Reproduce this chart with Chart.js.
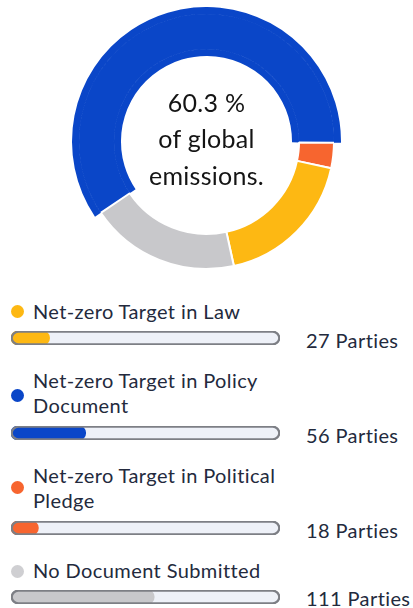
<!DOCTYPE html>
<html lang="en">
<head>
<meta charset="UTF-8" />
<meta name="viewport" content="width=device-width, initial-scale=1.0" />
<title>Net-zero Targets</title>
<script src="https://cdn.jsdelivr.net/npm/chart.js"></script>
<style>
  body {
    margin: 0;
    background: #ffffff;
    font-family: Lato, 'Open Sans', sans-serif;
    color: #232a3d;
  }
  #wrap {
    position: relative;
    width: 413px;
    height: 608px;
    overflow: hidden;
  }
  .ring {
    position: absolute;
    left: 72px;
    top: 7px;
    width: 269px;
    height: 269px;
  }
  .center-text {
    position: absolute;
    left: 96px;
    top: 83.5px;
    width: 221px;
    text-align: center;
    font-size: 25px;
    letter-spacing: 0.25px;
    line-height: 36.7px;
    color: #141414;
  }
  .dot {
    position: absolute;
    left: 11px;
    width: 13px;
    height: 13px;
    border-radius: 50%;
  }
  .label {
    position: absolute;
    left: 33px;
    font-size: 20px;
    letter-spacing: 0.4px;
    line-height: 25px;
    white-space: nowrap;
  }
  .bar {
    position: absolute;
    left: 11px;
    width: 269px;
    height: 14px;
  }
  .count {
    position: absolute;
    left: 306px;
    font-size: 20px;
    letter-spacing: 0.4px;
    line-height: 25px;
    white-space: nowrap;
  }
</style>
</head>
<body>
  <div id="wrap">
    <div class="ring"><canvas id="ring"></canvas></div>
    <div class="center-text" id="centerText"></div>
  </div>

  <script>
    // data (legend order)
    const categories = [
      ['Net-zero Target in Law'],
      ['Net-zero Target in Policy', 'Document'],
      ['Net-zero Target in Political', 'Pledge'],
      ['No Document Submitted']
    ];
    const parties = [27, 56, 18, 111];
    const emissionShare = [18.2, 59.6, 3.2, 19.0];
    const centerLines = ['60.3 %', 'of global', 'emissions.'];

    // styling / layout
    const colors = ['#fdb813', '#0a46c8', '#f7652f', '#c8c8cb'];
    const dotColors = ['#fdb813', '#0a46c8', '#f7652f', '#cfcfd2'];
    const trackFill = '#eef1f8';
    const trackLine = '#7d7f85';
    const ringOrder = [1, 2, 0, 3];   // clockwise from the top-left
    const highlight = 1;              // thicker segment
    const labelTops = [299, 368, 463, 557.5];
    const dotTops = [304.5, 388.5, 480.5, 564.5];
    const barTops = [331, 426, 521, 590];
    const countTops = [327.5, 422.5, 517.5, 586];
    const barStart = -4;

    const total = parties.reduce((a, b) => a + b, 0);
    const wrap = document.getElementById('wrap');

    document.getElementById('centerText').innerHTML = centerLines.join('<br>');

    // doughnut: three rings so the highlighted segment is thicker
    const ringData = ringOrder.map(i => emissionShare[i]);
    const ringColors = ringOrder.map(i => colors[i]);
    const edgeColors = ringOrder.map(i => i === highlight ? colors[i] : 'rgba(0,0,0,0)');

    new Chart(document.getElementById('ring'), {
      type: 'doughnut',
      data: {
        labels: ringOrder.map(i => categories[i].join(' ')),
        datasets: [
          { data: ringData, backgroundColor: edgeColors, borderWidth: 0, weight: 7 },
          {
            data: ringData,
            backgroundColor: ringColors,
            borderColor: ringOrder.map(i => i === highlight ? colors[i] : '#ffffff'),
            borderWidth: ringOrder.map(i => i === highlight ? 1 : 2),
            weight: 35
          },
          { data: ringData, backgroundColor: edgeColors, borderWidth: 0, weight: 7 }
        ]
      },
      options: {
        responsive: true,
        maintainAspectRatio: false,
        animation: false,
        rotation: 236,
        cutout: '63.6%',
        layout: { padding: 0 },
        plugins: { legend: { display: false }, tooltip: { enabled: false } }
      }
    });

    // legend rows with progress bars
    categories.forEach((lines, i) => {
      const dot = document.createElement('div');
      dot.className = 'dot';
      dot.style.top = dotTops[i] + 'px';
      dot.style.background = dotColors[i];
      wrap.appendChild(dot);

      const label = document.createElement('div');
      label.className = 'label';
      label.style.top = labelTops[i] + 'px';
      label.innerHTML = lines.join('<br>');
      wrap.appendChild(label);

      const count = document.createElement('div');
      count.className = 'count';
      count.style.top = countTops[i] + 'px';
      count.textContent = parties[i] + ' Parties';
      wrap.appendChild(count);

      const box = document.createElement('div');
      box.className = 'bar';
      box.style.top = barTops[i] + 'px';
      const canvas = document.createElement('canvas');
      box.appendChild(canvas);
      wrap.appendChild(box);

      const common = { borderRadius: 7, borderSkipped: false, grouped: false, barPercentage: 1, categoryPercentage: 1 };
      new Chart(canvas, {
        type: 'bar',
        data: {
          labels: [lines.join(' ')],
          datasets: [
            Object.assign({ data: [[barStart, total]], backgroundColor: trackFill, borderWidth: 0, order: 3 }, common),
            Object.assign({ data: [[barStart, parties[i]]], backgroundColor: colors[i], borderWidth: 0, order: 2 }, common),
            Object.assign({ data: [[barStart, total]], backgroundColor: 'rgba(0,0,0,0)', borderColor: trackLine, borderWidth: 1.5, order: 1 }, common)
          ]
        },
        options: {
          indexAxis: 'y',
          responsive: true,
          maintainAspectRatio: false,
          animation: false,
          layout: { padding: 0 },
          plugins: { legend: { display: false }, tooltip: { enabled: false } },
          scales: {
            x: { display: false, min: barStart, max: total },
            y: { display: false }
          }
        }
      });
    });
  </script>
</body>
</html>
